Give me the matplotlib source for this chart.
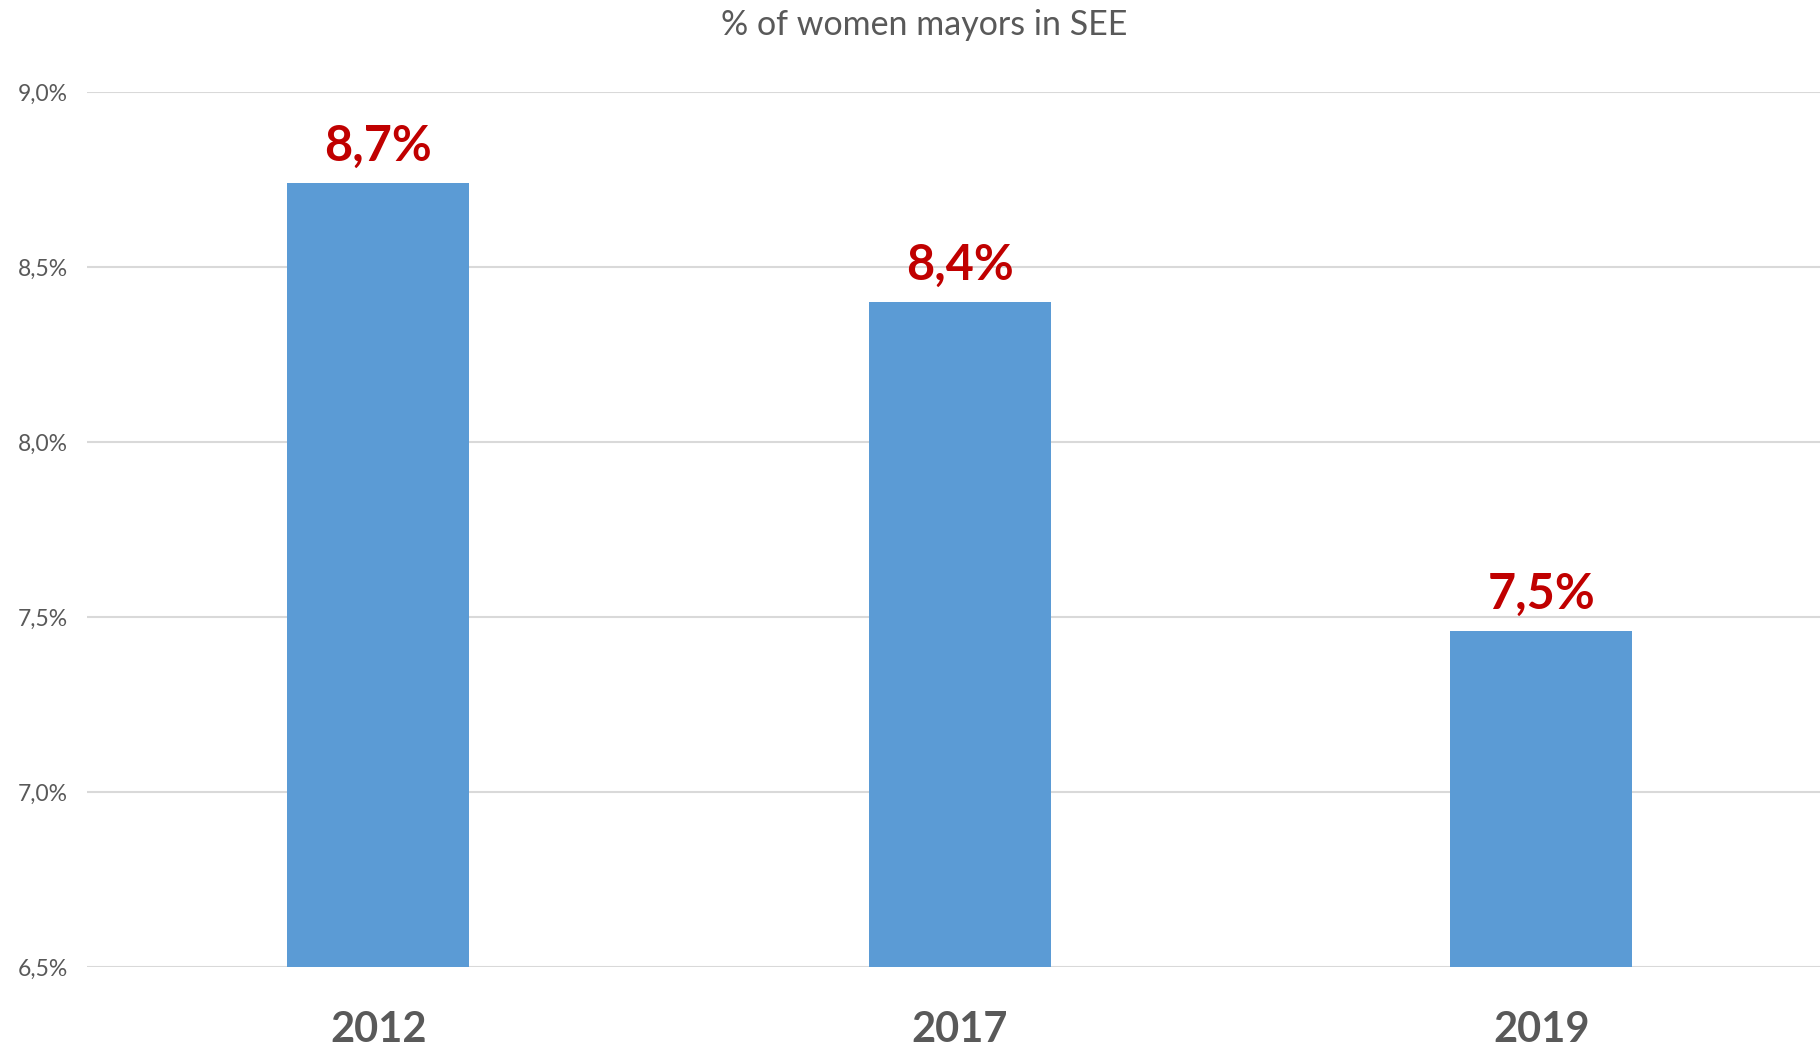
import matplotlib.pyplot as plt

years = ["2012", "2017", "2019"]
share = [8.74, 8.40, 7.46]
value_labels = ["8,7%", "8,4%", "7,5%"]
yticks = [6.5, 7.0, 7.5, 8.0, 8.5, 9.0]
ytick_labels = ["6,5%", "7,0%", "7,5%", "8,0%", "8,5%", "9,0%"]

plt.rcParams['font.family'] = ['Lato', 'DejaVu Sans']

fig = plt.figure(figsize=(18.2, 10.5), dpi=100)
ax = fig.add_axes([0.048, 0.079, 0.9587, 0.833])

x = list(range(len(years)))
ax.bar(x, share, width=0.313, color="#5B9BD5", zorder=2)

# value labels above bars
for xi, v, lab in zip(x, share, value_labels):
    ax.annotate(lab, (xi, v), xytext=(0, 16), textcoords="offset points",
                ha="center", va="baseline", fontsize=35, fontweight="bold",
                color="#C00000")

ax.set_ylim(6.5, 9.0)
ax.set_xlim(-0.5, 2.5)
ax.set_yticks(yticks)
ax.set_yticklabels(ytick_labels, fontsize=16.5, color="#595959")
ax.set_xticks(x)
ax.set_xticklabels(years, fontsize=30, fontweight="bold", color="#595959")
ax.tick_params(axis="both", length=0)
ax.tick_params(axis="x", pad=32)
ax.tick_params(axis="y", pad=14)

ax.grid(axis="y", color="#D9D9D9", linewidth=1.5, zorder=0)
for s in ax.spines.values():
    s.set_visible(False)

fig.text(0.508, 0.976, "% of women mayors in SEE", ha="center", va="center",
         fontsize=24.5, color="#595959")

plt.savefig("out.png", dpi=100)
